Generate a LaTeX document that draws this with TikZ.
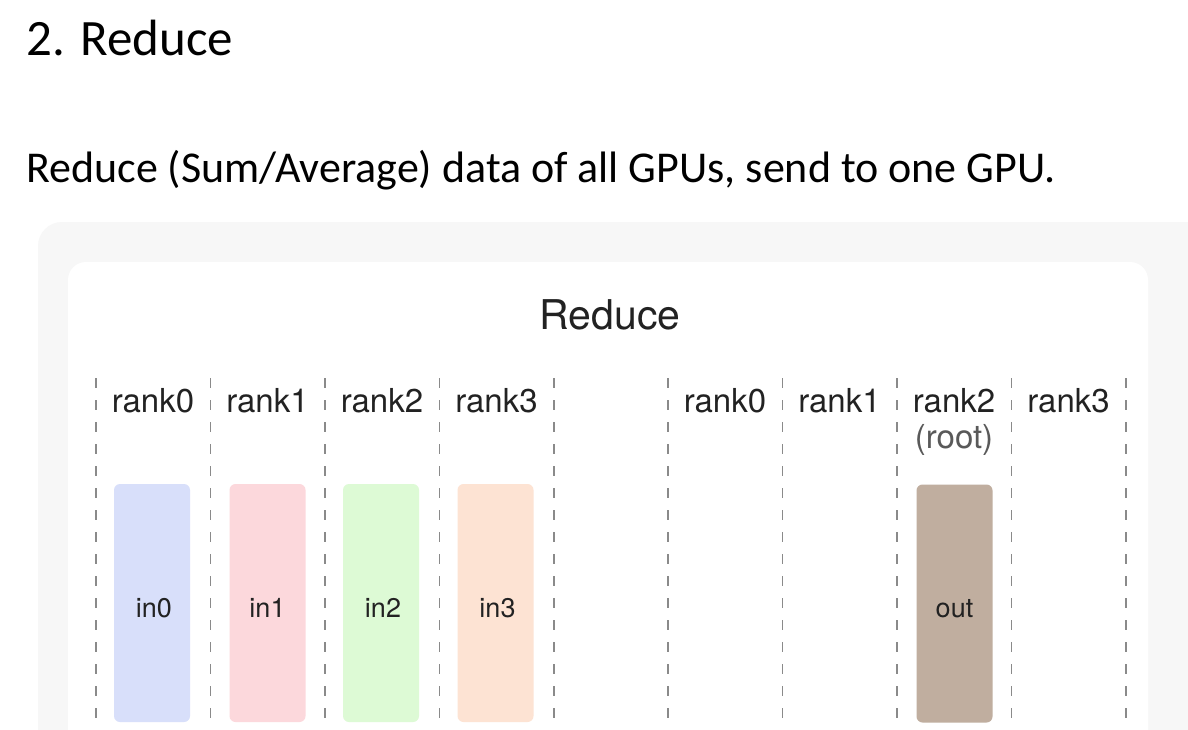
\documentclass[tikz,border=0pt]{standalone}
\usepackage{fontspec}
\setmainfont{Carlito}
\newfontfamily\helv{TeX Gyre Heros}
\definecolor{panelgray}{HTML}{F7F7F7}
\definecolor{cin0}{HTML}{D8DFFA}
\definecolor{cin1}{HTML}{FCD8DC}
\definecolor{cin2}{HTML}{DDFAD5}
\definecolor{cin3}{HTML}{FDE3D3}
\definecolor{cout}{HTML}{C0AE9F}
\definecolor{txt}{HTML}{222222}
\definecolor{dashc}{HTML}{8A8A8A}
\begin{document}
\begin{tikzpicture}[x=1pt,y=-1pt,
  dashline/.style={draw=dashc, line width=1.3pt, dash pattern=on 10pt off 12pt},
  ranklab/.style={anchor=base, inner sep=0pt, text=txt, font=\helv\fontsize{33}{40}\selectfont},
  buf/.style={rounded corners=6pt, minimum width=76pt, minimum height=238pt, inner sep=0pt},
  buflab/.style={inner sep=0pt, text=txt, font=\helv\fontsize{27}{32}\selectfont}]
\useasboundingbox (0,0) rectangle (1188,730);
\fill[white] (0,0) rectangle (1188,730);
\fill[panelgray, rounded corners=24pt] (38,222) rectangle (1240,790);
\fill[white, rounded corners=18pt] (68,262) rectangle (1148,790);

\node[anchor=base west, inner sep=0pt, text=black, font=\fontsize{51}{60}\selectfont] (title) at (26,56) {2. Reduce};
\node[anchor=base west, inner sep=0pt, text=black, font=\fontsize{44}{52}\selectfont] (sub) at (26,183) {Reduce (Sum/Average) data of all GPUs, send to one GPU.};

\node[anchor=base, inner sep=0pt, text=txt, font=\helv\fontsize{41}{48}\selectfont] (rt) at (610,329) {Reduce};

\foreach \x in {96,210.5,325,439.5,554,668,782.5,897,1011.5,1126}
  \draw[dashline] (\x,378) -- (\x,730);

\node[ranklab] (l0) at (153,412) {rank0};
\node[ranklab] (l1) at (267.5,412) {rank1};
\node[ranklab] (l2) at (382,412) {rank2};
\node[ranklab] (l3) at (496.5,412) {rank3};
\node[ranklab] (r0) at (725,412) {rank0};
\node[ranklab] (r1) at (839.5,412) {rank1};
\node[ranklab] (r2) at (954,412) {rank2};
\node[ranklab, text=txt!75] (root) at (954,448) {(root)};
\node[ranklab] (r3) at (1068.5,412) {rank3};

\node[buf, fill=cin0] (b0) at (152,603) {};
\node[buf, fill=cin1] (b1) at (267.5,603) {};
\node[buf, fill=cin2] (b2) at (381,603) {};
\node[buf, fill=cin3] (b3) at (495.5,603) {};
\node[buf, fill=cout] (bo) at (954.5,603.5) {};

\node[buflab] (t0) at ([xshift=2pt,yshift=-5pt]b0.center) {in0};
\node[buflab] (t1) at ([yshift=-5pt]b1.center) {in1};
\node[buflab] (t2) at ([xshift=2pt,yshift=-5pt]b2.center) {in2};
\node[buflab] (t3) at ([xshift=2pt,yshift=-5pt]b3.center) {in3};
\node[buflab] (to) at ([yshift=-5pt]bo.center) {out};
\end{tikzpicture}
\end{document}
